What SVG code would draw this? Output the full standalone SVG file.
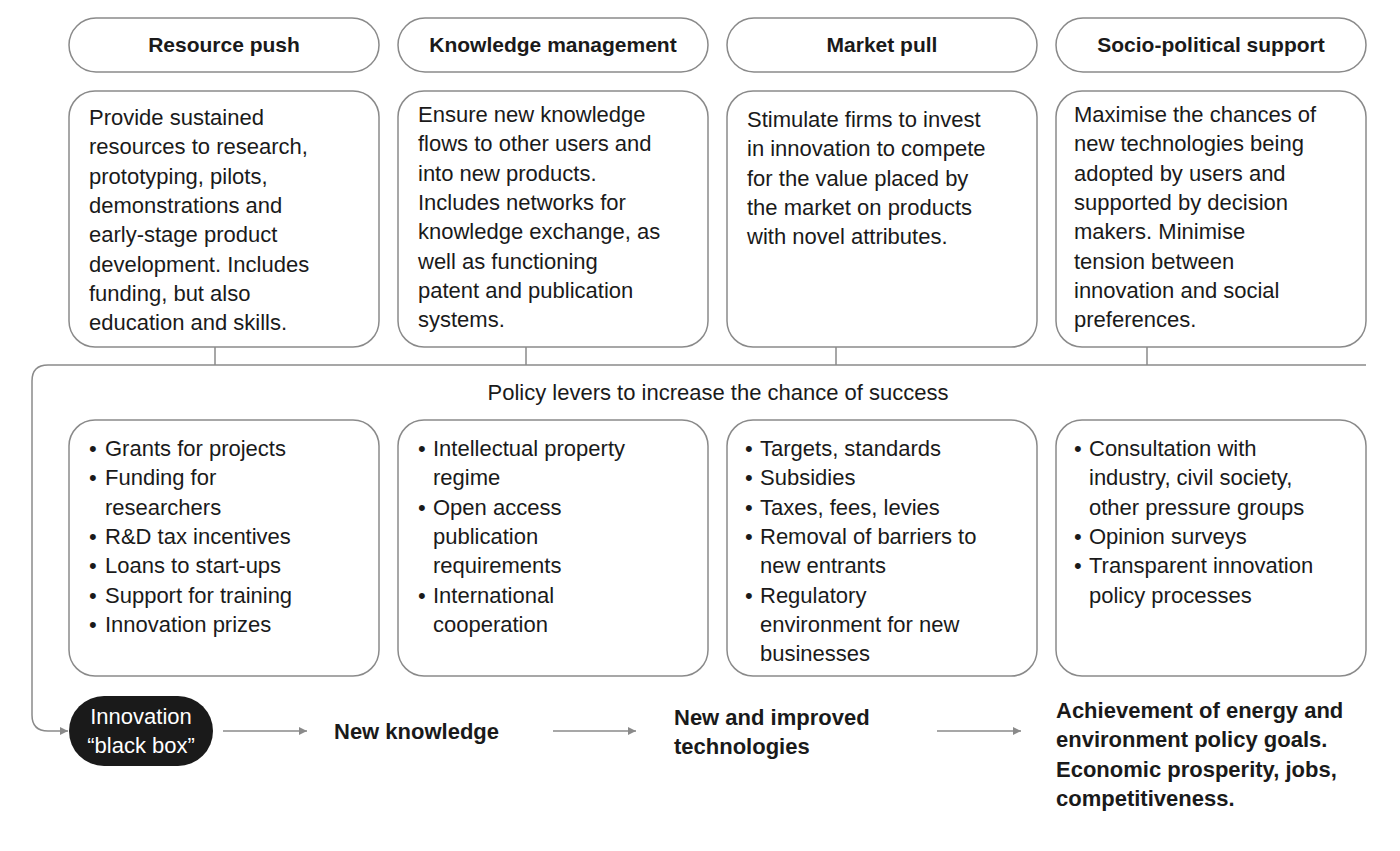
<svg xmlns="http://www.w3.org/2000/svg" width="1400" height="851" viewBox="0 0 1400 851">
<defs>
<marker id="ah" viewBox="0 0 10 10" refX="10" refY="5" markerWidth="8" markerHeight="8" markerUnits="userSpaceOnUse" orient="auto"><path d="M0,0 L10,5 L0,10 z" fill="#8a8a8a"/></marker>
<style>
.box{fill:#fff;stroke:#8a8a8a;stroke-width:1.5}
.h{font-family:"Liberation Sans",Arial,sans-serif;font-size:21px;font-weight:bold;fill:#1a1a1a;text-anchor:middle}
.t{font-family:"Liberation Sans",Arial,sans-serif;font-size:22px;fill:#1a1a1a}
.b{font-family:"Liberation Sans",Arial,sans-serif;font-size:22px;font-weight:bold;fill:#1a1a1a}
.ln{fill:none;stroke:#8a8a8a;stroke-width:1.5}
</style>
</defs>
<rect width="1400" height="851" fill="#fff"/>
<g id="connectors">
<path class="ln" d="M215,347V365M526,347V365M836,347V365M1147,347V365"/>
<path class="ln" d="M1366,365H48Q32,365 32,381V715Q32,731 48,731H68" marker-end="url(#ah)"/>
<path class="ln" d="M223,731H307" marker-end="url(#ah)"/>
<path class="ln" d="M553,731H636" marker-end="url(#ah)"/>
<path class="ln" d="M937,731H1021" marker-end="url(#ah)"/>
</g>
<g id="h1"><rect class="box" x="69" y="18" width="310" height="54" rx="27"/><text class="h" x="224" y="52">Resource push</text></g>
<g id="h2"><rect class="box" x="398" y="18" width="310" height="54" rx="27"/><text class="h" x="553" y="52">Knowledge management</text></g>
<g id="h3"><rect class="box" x="727" y="18" width="310" height="54" rx="27"/><text class="h" x="882" y="52">Market pull</text></g>
<g id="h4"><rect class="box" x="1056" y="18" width="310" height="54" rx="27"/><text class="h" x="1211" y="52">Socio-political support</text></g>
<g id="d1"><rect class="box" x="69" y="91" width="310" height="256" rx="26"/>
<text class="t" x="89" y="125"><tspan x="89">Provide sustained</tspan><tspan x="89" dy="29.3">resources to research,</tspan><tspan x="89" dy="29.3">prototyping, pilots,</tspan><tspan x="89" dy="29.3">demonstrations and</tspan><tspan x="89" dy="29.3">early-stage product</tspan><tspan x="89" dy="29.3">development. Includes</tspan><tspan x="89" dy="29.3">funding, but also</tspan><tspan x="89" dy="29.3">education and skills.</tspan></text></g>
<g id="d2"><rect class="box" x="398" y="91" width="310" height="256" rx="26"/>
<text class="t" x="418" y="122"><tspan x="418">Ensure new knowledge</tspan><tspan x="418" dy="29.3">flows to other users and</tspan><tspan x="418" dy="29.3">into new products.</tspan><tspan x="418" dy="29.3">Includes networks for</tspan><tspan x="418" dy="29.3">knowledge exchange, as</tspan><tspan x="418" dy="29.3">well as functioning</tspan><tspan x="418" dy="29.3">patent and publication</tspan><tspan x="418" dy="29.3">systems.</tspan></text></g>
<g id="d3"><rect class="box" x="727" y="91" width="310" height="256" rx="26"/>
<text class="t" x="747" y="127"><tspan x="747">Stimulate firms to invest</tspan><tspan x="747" dy="29.3">in innovation to compete</tspan><tspan x="747" dy="29.3">for the value placed by</tspan><tspan x="747" dy="29.3">the market on products</tspan><tspan x="747" dy="29.3">with novel attributes.</tspan></text></g>
<g id="d4"><rect class="box" x="1056" y="91" width="310" height="256" rx="26"/>
<text class="t" x="1074" y="122"><tspan x="1074">Maximise the chances of</tspan><tspan x="1074" dy="29.3">new technologies being</tspan><tspan x="1074" dy="29.3">adopted by users and</tspan><tspan x="1074" dy="29.3">supported by decision</tspan><tspan x="1074" dy="29.3">makers. Minimise</tspan><tspan x="1074" dy="29.3">tension between</tspan><tspan x="1074" dy="29.3">innovation and social</tspan><tspan x="1074" dy="29.3">preferences.</tspan></text></g>
<text class="t" x="718" y="400" text-anchor="middle">Policy levers to increase the chance of success</text>
<g id="l1"><rect class="box" x="69" y="420" width="310" height="256" rx="26"/>
<text class="t" y="456"><tspan x="89">•</tspan><tspan x="105">Grants for projects</tspan><tspan x="89" dy="29.3">•</tspan><tspan x="105">Funding for</tspan><tspan x="105" dy="29.3">researchers</tspan><tspan x="89" dy="29.3">•</tspan><tspan x="105">R&amp;D tax incentives</tspan><tspan x="89" dy="29.3">•</tspan><tspan x="105">Loans to start-ups</tspan><tspan x="89" dy="29.3">•</tspan><tspan x="105">Support for training</tspan><tspan x="89" dy="29.3">•</tspan><tspan x="105">Innovation prizes</tspan></text></g>
<g id="l2"><rect class="box" x="398" y="420" width="310" height="256" rx="26"/>
<text class="t" y="456"><tspan x="418">•</tspan><tspan x="433">Intellectual property</tspan><tspan x="433" dy="29.3">regime</tspan><tspan x="418" dy="29.3">•</tspan><tspan x="433">Open access</tspan><tspan x="433" dy="29.3">publication</tspan><tspan x="433" dy="29.3">requirements</tspan><tspan x="418" dy="29.3">•</tspan><tspan x="433">International</tspan><tspan x="433" dy="29.3">cooperation</tspan></text></g>
<g id="l3"><rect class="box" x="727" y="420" width="310" height="256" rx="26"/>
<text class="t" y="456"><tspan x="745">•</tspan><tspan x="760">Targets, standards</tspan><tspan x="745" dy="29.3">•</tspan><tspan x="760">Subsidies</tspan><tspan x="745" dy="29.3">•</tspan><tspan x="760">Taxes, fees, levies</tspan><tspan x="745" dy="29.3">•</tspan><tspan x="760">Removal of barriers to</tspan><tspan x="760" dy="29.3">new entrants</tspan><tspan x="745" dy="29.3">•</tspan><tspan x="760">Regulatory</tspan><tspan x="760" dy="29.3">environment for new</tspan><tspan x="760" dy="29.3">businesses</tspan></text></g>
<g id="l4"><rect class="box" x="1056" y="420" width="310" height="256" rx="26"/>
<text class="t" y="456"><tspan x="1074">•</tspan><tspan x="1089">Consultation with</tspan><tspan x="1089" dy="29.3">industry, civil society,</tspan><tspan x="1089" dy="29.3">other pressure groups</tspan><tspan x="1074" dy="29.3">•</tspan><tspan x="1089">Opinion surveys</tspan><tspan x="1074" dy="29.3">•</tspan><tspan x="1089">Transparent innovation</tspan><tspan x="1089" dy="29.3">policy processes</tspan></text></g>
<g id="blackbox"><rect x="69" y="696" width="144" height="70" rx="35" fill="#1a1a1a"/>
<text class="t" x="141" y="724" text-anchor="middle" fill="#fff" style="fill:#fff">Innovation</text><text class="t" x="141" y="753" text-anchor="middle" style="fill:#fff">“black box”</text></g>
<g id="nk"><text class="b" x="334" y="739">New knowledge</text></g>
<g id="nt"><text class="b" x="674" y="725"><tspan x="674">New and improved</tspan><tspan x="674" dy="29.3">technologies</tspan></text></g>
<g id="goal"><text class="b" x="1056" y="718"><tspan x="1056">Achievement of energy and</tspan><tspan x="1056" dy="29.3">environment policy goals.</tspan><tspan x="1056" dy="29.3">Economic prosperity, jobs,</tspan><tspan x="1056" dy="29.3">competitiveness.</tspan></text></g>
</svg>
